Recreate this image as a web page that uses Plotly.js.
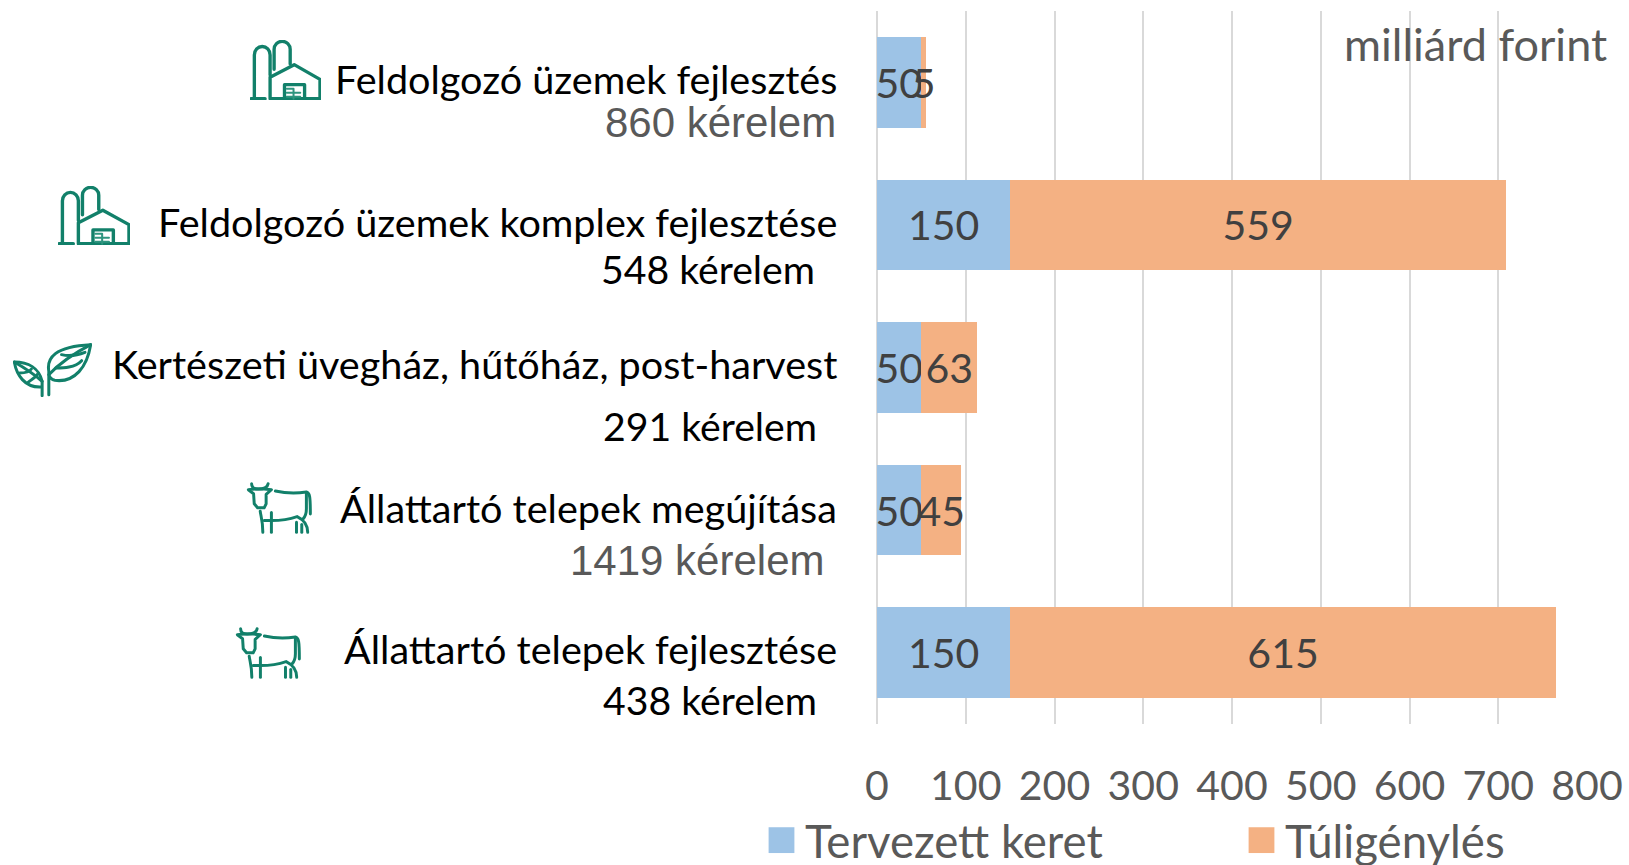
<!DOCTYPE html>
<html><head><meta charset="utf-8">
<script src="https://cdn.plot.ly/plotly-3.0.1.min.js"></script>
<style>html,body{margin:0;padding:0;background:#fff;overflow:hidden}</style>
</head><body><div id="chart" style="width:1629px;height:865px"></div>
<script>
// ---- data ----
const categories = ["Feldolgozó üzemek fejlesztés","Feldolgozó üzemek komplex fejlesztése","Kertészeti üvegház, hűtőház, post-harvest","Állattartó telepek megújítása","Állattartó telepek fejlesztése"];
const requestCounts = ["860 kérelem","548 kérelem","291 kérelem","1419 kérelem","438 kérelem"];
const plannedBudget = [50,150,50,50,150];
const overDemand = [5,559,63,45,615];
const seriesNames = ["Tervezett keret","Túligénylés"];
const xTicks = [0,100,200,300,400,500,600,700,800];
const unitLabel = "milliárd forint";

// ---- layout constants (pixels) ----
const W=1629,H=865,L=877,R=1587,T=11,B=724;
const px=x=>(x-L)/(R-L), py=y=>(B-y)/(B-T);
const LABEL="Lato, Carlito, sans-serif", ARIAL="'Liberation Sans', Arial, sans-serif";
const GREEN="#12806A", TICK="#595959", DLABEL="#404040";
const catPos=[[839,78.5],[839,221],[839,363],[839,507],[839,648.5]];
const countPos=[[838,122.5,ARIAL,TICK],[817,268,LABEL,"#000"],[819,426,LABEL,"#000"],[826,560,ARIAL,TICK],[819,699,LABEL,"#000"]];

// ---- icons ----
const svgUri=(vb,body,sw)=>"data:image/svg+xml;charset=utf-8,"+encodeURIComponent(
 `<svg xmlns="http://www.w3.org/2000/svg" viewBox="${vb}" preserveAspectRatio="none"><g fill="none" stroke="${GREEN}" stroke-width="${sw}" stroke-linecap="round" stroke-linejoin="round">${body}</g></svg>`);
const factory=svgUri("0 0 212 180",`
 <path d="M3 176H45"/><path d="M13 176V45a23 25 0 0 1 47 0V105"/>
 <path d="M72 88V28a24 24 0 0 1 48 0V72"/>
 <path d="M60 176V112L132 74L209 118V176Z"/>
 <path d="M103 176V134H163V176"/>
 <g stroke-width="6" stroke="#2f957f"><path d="M110 146H130M110 158H150M110 170H150M130 146V176"/></g>`,10);
const leaf=svgUri("40 130 236 162",`
 <path d="M147 285V215C140 175 165 140 272 135C262 200 225 250 165 242C155 240 150 235 147 225"/>
 <path d="M147 225C175 195 215 165 272 135"/>
 <path d="M168 205C190 205 225 205 245 183"/><path d="M185 165C205 170 225 170 255 158"/>
 <path d="M127 288V245C118 205 85 187 44 187C50 225 75 265 125 262"/>
 <path d="M127 245C105 225 75 205 44 187"/>
 <path d="M60 220C75 220 90 215 95 208"/><path d="M85 248C95 240 108 232 112 225"/>`,9);
const cow=svgUri("735 545 200 155",`
 <path d="M752 550C752 562 760 566 772 566C786 566 800 562 802 550"/>
 <path d="M742 568L758 580L760 610L770 622H790L796 610V582L812 568L790 566H762Z"/>
 <path d="M824 572C860 580 885 580 918 575C928 578 930 585 930 640"/><path d="M918 578V625C918 640 915 648 908 655"/>
 <path d="M778 632C780 648 786 660 786 695"/><path d="M812 636V695"/>
 <path d="M790 660H812C835 660 870 655 890 648C905 655 922 670 922 695"/>
 <path d="M888 665V695"/><path d="M904 672V695"/>`,9);
const iconBoxes=[[factory,250,40,71,60],[factory,58,186,72,59],[leaf,13,343,79,54],[cow,246,482,66,52],[cow,235,627,66,52]];

// ---- figure ----
const common={type:"bar",orientation:"h",y:categories,textposition:"inside",insidetextanchor:"middle",constraintext:"none",
 textangle:0,cliponaxis:false,insidetextfont:{family:LABEL,size:41,color:DLABEL},hoverinfo:"x+y+name"};
const traces=[
 Object.assign({},common,{name:seriesNames[0],x:plannedBudget,text:plannedBudget.map(String),marker:{color:"#9DC3E6"},legend:"legend",showlegend:true}),
 Object.assign({},common,{name:seriesNames[1],x:overDemand,text:overDemand.map(String),marker:{color:"#F4B183"},legend:"legend2",showlegend:true})
];
const annotations=[];
categories.forEach((c,i)=>annotations.push({xref:"paper",yref:"paper",x:px(catPos[i][0]),y:py(catPos[i][1]),text:c,showarrow:false,xanchor:"right",yanchor:"middle",font:{family:LABEL,size:39.6,color:"#000"}}));
requestCounts.forEach((c,i)=>{const p=countPos[i];annotations.push({xref:"paper",yref:"paper",x:px(p[0]),y:py(p[1]),text:c,showarrow:false,xanchor:"right",yanchor:"middle",font:{family:p[2],size:p[2]===ARIAL?42:39.2,color:p[3]}})});
annotations.push({xref:"paper",yref:"paper",x:px(1609),y:py(44),text:unitLabel,showarrow:false,xanchor:"right",yanchor:"middle",font:{family:LABEL,size:45,color:TICK}});
const legendBase={orientation:"v",xanchor:"left",yanchor:"middle",font:{family:LABEL,size:45.6,color:TICK},itemsizing:"constant",itemwidth:37,bgcolor:"rgba(0,0,0,0)"};
const layout={
 width:W,height:H,paper_bgcolor:"#fff",plot_bgcolor:"#fff",barmode:"stack",bargap:0.365,showlegend:true,
 margin:{l:L,r:W-R,t:T,b:H-B,pad:0,autoexpand:false},
 xaxis:{range:[0,800],tickvals:xTicks,ticktext:xTicks.map(String),showgrid:true,gridcolor:"#D9D9D9",gridwidth:2,zeroline:true,zerolinecolor:"#D9D9D9",zerolinewidth:2,
  showline:false,ticks:"",ticklabelstandoff:34,tickfont:{family:LABEL,size:41,color:TICK}},
 yaxis:{autorange:"reversed",type:"category",showticklabels:false,showgrid:false,zeroline:false,showline:false,ticks:""},
 legend:Object.assign({},legendBase,{x:px(758),y:py(830)}),
 legend2:Object.assign({},legendBase,{x:px(1238),y:py(830)}),
 annotations,
 images:iconBoxes.map(b=>({source:b[0],xref:"paper",yref:"paper",x:px(b[1]),y:py(b[2]),sizex:b[3]/(R-L),sizey:b[4]/(B-T),sizing:"stretch",xanchor:"left",yanchor:"top",layer:"above"}))
};
Plotly.newPlot("chart",traces,layout,{displayModeBar:false,responsive:false}).then(gd=>{
 gd.querySelectorAll(".legendpoints path").forEach(p=>{
  p.setAttribute("transform",(p.getAttribute("transform")||"")+" scale(2.15)");
 });
 gd.querySelectorAll("g.legend, g.legend2").forEach(g=>{
  const m=/translate\(([-\d.]+),\s*([-\d.]+)\)/.exec(g.getAttribute("transform")||"");
  if(m) g.setAttribute("transform",`translate(${m[1]},${+m[2]+10.5})`);
 });
});
</script></body></html>
